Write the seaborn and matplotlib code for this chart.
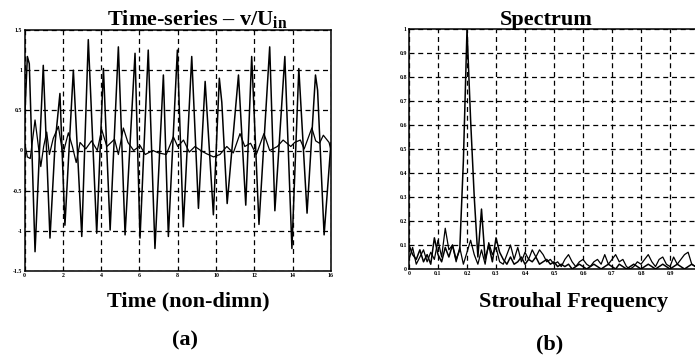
import matplotlib
matplotlib.use("Agg")
import matplotlib.pyplot as plt
import seaborn as sns
import pandas as pd

# ---- time series (non-dimensional time, v/U_in) ----
t_large = [0.0, 0.15, 0.25, 0.55, 0.98, 1.33, 1.6, 1.85, 2.11, 2.55, 2.99, 3.33,
           3.77, 4.12, 4.47, 4.9, 5.25, 5.77, 6.03, 6.46, 6.81, 7.25, 7.51, 7.98,
           8.29, 8.73, 9.08, 9.43, 9.86, 10.17, 10.3, 10.58, 11.17, 11.55, 11.86,
           12.24, 12.8, 13.07, 13.59, 13.96, 14.32, 14.75, 15.19, 15.3, 15.64, 16.0]
v_large = [0.35, 1.17, 1.08, -1.26, 1.06, -1.09, 0.1, 0.71, -0.93, 1.0, -1.07, 1.38,
           -1.03, 1.02, -0.99, 1.29, -1.05, 1.21, -1.09, 1.25, -1.22, 0.94, -1.07, 1.25,
           -0.95, 1.17, -0.72, 0.86, -0.8, 0.9, 0.6, -0.66, 0.94, -0.68, 1.17,
           -0.92, 1.29, -0.75, 1.17, -1.22, 1.02, -0.78, 0.94, 0.75, -1.05, 0.1]

t_small = [0.0, 0.15, 0.3, 0.55, 0.7, 0.85, 1.0, 1.16, 1.3, 1.5, 1.77, 2.0, 2.29,
           2.5, 2.7, 2.9, 3.2, 3.5, 3.8, 4.03, 4.3, 4.7, 4.9, 5.16, 5.4, 5.7, 6.04,
           6.3, 6.7, 7.0, 7.4, 7.77, 8.0, 8.3, 8.6, 8.9, 9.2, 9.5, 9.87, 10.2, 10.56,
           10.9, 11.25, 11.5, 11.8, 12.1, 12.5, 12.8, 13.2, 13.5, 13.9, 14.1, 14.4,
           14.6, 15.0, 15.2, 15.4, 15.6, 15.9, 16.0]
v_small = [0.1, -0.08, -0.1, 0.38, 0.1, -0.2, 0.05, 0.23, -0.05, 0.15, 0.3, -0.05, 0.22,
           0.05, -0.15, 0.1, 0.02, 0.12, 0.0, 0.26, 0.05, 0.14, -0.05, 0.28, 0.1, 0.0, 0.06,
           -0.05, 0.0, -0.03, -0.05, 0.17, 0.05, 0.13, -0.02, 0.05, 0.0, -0.04, -0.08, -0.05, 0.05,
           -0.03, 0.21, 0.05, 0.09, -0.05, 0.21, 0.0, 0.05, 0.13, 0.05, 0.1, 0.13,
           0.02, 0.28, 0.12, 0.09, 0.19, 0.1, 0.0]

# ---- spectrum (Strouhal frequency, normalised amplitude) ----
freq = [0.0, 0.0125, 0.025, 0.0375, 0.05, 0.0625, 0.075, 0.0875, 0.1, 0.1125,
        0.125, 0.1375, 0.15, 0.1625, 0.175, 0.1875, 0.2, 0.2125, 0.225, 0.2375,
        0.25, 0.2625, 0.275, 0.2875, 0.3, 0.3125, 0.325, 0.3375, 0.35, 0.3625,
        0.375, 0.3875, 0.4, 0.4125, 0.425, 0.4375, 0.45, 0.4625, 0.475, 0.4875,
        0.5, 0.5125, 0.525, 0.5375, 0.55, 0.5625, 0.575, 0.5875, 0.6, 0.6125,
        0.625, 0.6375, 0.65, 0.6625, 0.675, 0.6875, 0.7, 0.7125, 0.725, 0.7375,
        0.75, 0.7625, 0.775, 0.7875, 0.8, 0.8125, 0.825, 0.8375, 0.85, 0.8625,
        0.875, 0.8875, 0.9, 0.9125, 0.925, 0.9375, 0.95, 0.9625, 0.975, 0.9875, 1.0]
spec_a = [0.10, 0.06, 0.04, 0.08, 0.03, 0.06, 0.02, 0.13, 0.06, 0.03,
          0.09, 0.05, 0.10, 0.04, 0.08, 0.45, 1.00, 0.62, 0.30, 0.05,
          0.25, 0.04, 0.10, 0.03, 0.13, 0.07, 0.04, 0.02, 0.05, 0.02,
          0.03, 0.05, 0.02, 0.04, 0.03, 0.05, 0.02, 0.03, 0.04, 0.02,
          0.03, 0.01, 0.02, 0.01, 0.02, 0.00, 0.01, 0.02, 0.01, 0.00,
          0.01, 0.02, 0.01, 0.00, 0.01, 0.02, 0.01, 0.00, 0.02, 0.01,
          0.00, 0.01, 0.02, 0.01, 0.00, 0.01, 0.02, 0.01, 0.00, 0.01,
          0.02, 0.01, 0.00, 0.01, 0.02, 0.01, 0.00, 0.01, 0.02, 0.01, 0.00]
spec_b = [0.04, 0.09, 0.02, 0.05, 0.08, 0.03, 0.07, 0.04, 0.12, 0.05,
          0.17, 0.08, 0.10, 0.03, 0.09, 0.02, 0.07, 0.12, 0.06, 0.02,
          0.08, 0.02, 0.11, 0.06, 0.09, 0.03, 0.02, 0.06, 0.10, 0.04,
          0.09, 0.03, 0.07, 0.04, 0.08, 0.05, 0.08, 0.06, 0.03, 0.04,
          0.02, 0.03, 0.01, 0.04, 0.06, 0.03, 0.01, 0.03, 0.04, 0.02,
          0.01, 0.03, 0.04, 0.02, 0.06, 0.02, 0.04, 0.06, 0.03, 0.04,
          0.01, 0.00, 0.01, 0.03, 0.02, 0.04, 0.06, 0.03, 0.01, 0.04,
          0.05, 0.02, 0.01, 0.05, 0.02, 0.04, 0.06, 0.07, 0.02, 0.01, 0.00]

ts_xticks = [0, 2, 4, 6, 8, 10, 12, 14, 16]
ts_yticks = [-1.5, -1, -0.5, 0, 0.5, 1, 1.5]
sp_xticks = [0, 0.1, 0.2, 0.3, 0.4, 0.5, 0.6, 0.7, 0.8, 0.9]
sp_yticks = [0, 0.1, 0.2, 0.3, 0.4, 0.5, 0.6, 0.7, 0.8, 0.9, 1]

sns.set_style("white")
plt.rcParams["font.family"] = ["Liberation Serif", "DejaVu Serif"]
plt.rcParams["mathtext.fontset"] = "custom"
plt.rcParams["mathtext.rm"] = "Liberation Serif:bold"
plt.rcParams["mathtext.it"] = "Liberation Serif:bold"
plt.rcParams["mathtext.bf"] = "Liberation Serif:bold"

W, H = 695, 356
fig = plt.figure(figsize=(W / 100, H / 100), dpi=100)
fig.patch.set_facecolor("white")


def px_axes(x0, y0, x1, y1):
    return fig.add_axes([x0 / W, 1 - y1 / H, (x1 - x0) / W, (y1 - y0) / H])


def style(ax):
    ax.set_facecolor("white")
    for s in ax.spines.values():
        s.set_visible(True)
        s.set_color("black")
        s.set_linewidth(1.1)
    ax.grid(True, color="black", linestyle=(0, (4, 3)), linewidth=0.9)
    ax.tick_params(axis="both", direction="in", length=2, width=0.8,
                   labelsize=4.2, pad=1.5, colors="black")
    for lab in ax.get_xticklabels() + ax.get_yticklabels():
        lab.set_fontweight("bold")
    ax.set_xlabel("")
    ax.set_ylabel("")


# (a) time series
ax1 = px_axes(24.5, 30, 331, 271)
df_large = pd.DataFrame({"t": t_large, "v": v_large})
df_small = pd.DataFrame({"t": t_small, "v": v_small})
sns.lineplot(data=df_large, x="t", y="v", ax=ax1, color="black", lw=1.1, sort=False)
sns.lineplot(data=df_small, x="t", y="v", ax=ax1, color="black", lw=0.9, sort=False)
ax1.set_xlim(0, 16)
ax1.set_ylim(-1.5, 1.5)
ax1.set_xticks(ts_xticks)
ax1.set_xticklabels([str(v) for v in ts_xticks])
ax1.set_yticks(ts_yticks)
ax1.set_yticklabels([f"{v:g}" for v in ts_yticks])
style(ax1)

# (b) spectrum
ax2 = px_axes(409, 29.3, 699, 269)
df_spec = pd.DataFrame({"f": freq, "a": spec_a, "b": spec_b})
sns.lineplot(data=df_spec, x="f", y="a", ax=ax2, color="black", lw=1.1)
sns.lineplot(data=df_spec, x="f", y="b", ax=ax2, color="black", lw=0.9)
ax2.set_xlim(0, 1)
ax2.set_ylim(0, 1)
ax2.set_xticks(sp_xticks)
ax2.set_xticklabels([f"{v:g}" for v in sp_xticks])
ax2.set_yticks(sp_yticks)
ax2.set_yticklabels([f"{v:g}" for v in sp_yticks])
style(ax2)

txt = dict(fontsize=16, fontweight="bold", color="black", ha="center")
fig.text(197.5 / W, 1 - 25 / H, r"Time-series – v/U$_{\mathrm{in}}$", va="baseline", **txt)
fig.text(546.7 / W, 1 - 25 / H, "Spectrum", va="baseline", **txt)
fig.text(188.5 / W, 1 - 306.7 / H, "Time (non-dimn)", va="baseline", **txt)
fig.text(574 / W, 1 - 306.7 / H, "Strouhal Frequency", va="baseline", **txt)
fig.text(185 / W, 1 - 340 / H, "(a)", va="center", **txt)
fig.text(550 / W, 1 - 344 / H, "(b)", va="center", **txt)

fig.savefig("out.png", dpi=100, facecolor="white")
